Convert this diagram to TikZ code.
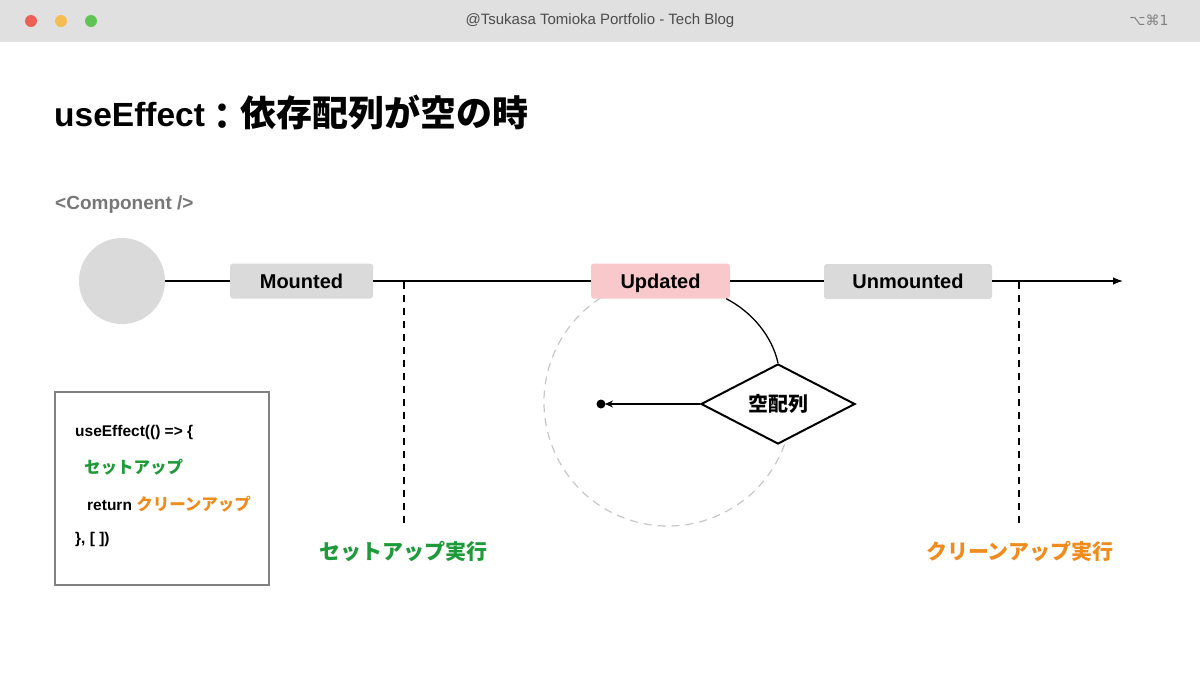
\documentclass[tikz,border=0pt]{standalone}
\usepackage{fontspec}
\setmainfont{Liberation Sans}
\newfontfamily\cjk{Noto Sans CJK JP}
\newfontfamily\sym{DejaVu Sans}
\usetikzlibrary{arrows.meta,shapes.geometric}
\definecolor{barbg}{HTML}{E0E0E0}
\definecolor{boxgray}{HTML}{DADADA}
\definecolor{boxpink}{HTML}{F9C8CA}
\definecolor{setgreen}{HTML}{1E9A3A}
\definecolor{cleanorange}{HTML}{F08C1E}
\definecolor{compgray}{HTML}{777777}
\tikzset{
  stage/.style={rounded corners=3pt, minimum height=35pt, font=\bfseries\fontsize{20}{20}\selectfont, inner sep=0pt, text height=14.5pt, text depth=0.5pt},
  tline/.style={line width=1.2pt, draw=black},
  vdash/.style={line width=1.2pt, dash pattern=on 7pt off 6pt},
  codetext/.style={anchor=west, font=\bfseries\fontsize{15.5}{16}\selectfont, inner sep=0pt},
  bigjp/.style={font=\cjk\bfseries\fontsize{21}{21}\selectfont, inner sep=0pt}
}
\begin{document}
\begin{tikzpicture}[x=1pt,y=-1pt]
\useasboundingbox (0,0) rectangle (1200,675);
\fill[white] (0,0) rectangle (1200,675);
% top bar
\fill[barbg] (0,0) rectangle (1200,42);
\fill[color={rgb,255:red,238;green,95;blue,87}] (31,21) circle (6);
\fill[color={rgb,255:red,245;green,189;blue,79}] (61,21) circle (6);
\fill[color={rgb,255:red,95;green,196;blue,84}] (91,21) circle (6);
\node[text=black!70, font=\fontsize{15}{16}\selectfont] (bartitle) at (600,21) {@Tsukasa Tomioka Portfolio - Tech Blog};
\node[text=black!50, font=\sym\fontsize{14}{15}\selectfont, anchor=east] (shortcut) at (1172,20) {⌥⌘1};
% heading
\node[anchor=west, inner sep=0pt] (heading) at (54,112) {{\bfseries\fontsize{33.5}{34}\selectfont useEffect}{\cjk\bfseries\fontsize{36}{37}\selectfont \raisebox{-3pt}{：}依存配列が空の時}};
\node[anchor=west, inner sep=0pt, text=compgray, font=\bfseries\fontsize{19}{19}\selectfont] (comp) at (55,205) {<Component />};
% dashed gray loop (behind the nodes)
\coordinate (loopc) at (668,402);
\draw[draw=black!22, line width=1.2pt, dash pattern=on 8pt off 6pt] ([shift={(20:124)}]loopc) arc[start angle=20, end angle=292, radius=124];
% timeline
\node[circle, fill=boxgray, minimum size=86pt, inner sep=0pt] (comp circ) at (122,281) {};
\node[stage, fill=boxgray, minimum width=143pt] (mounted) at (301.5,281) {Mounted};
\node[stage, fill=boxpink, minimum width=139pt] (updated) at (660.5,281) {Updated};
\node[stage, fill=boxgray, minimum width=168pt] (unmounted) at (908,281.5) {Unmounted};
\coordinate (tend) at (1123,281);
\draw[tline] (comp circ) -- (mounted);
\draw[tline] (mounted.east |- 0,281) -- (updated.west |- 0,281);
\draw[tline] (updated.east |- 0,281) -- (unmounted.west |- 0,281);
\draw[tline, -{Latex[length=10pt,width=7.5pt]}] (unmounted.east |- 0,281) -- (tend);
% dashed verticals
\coordinate (v1top) at (404,282);
\coordinate (v1bot) at (404,527);
\coordinate (v2top) at (1019,282);
\coordinate (v2bot) at (1019,525);
\draw[vdash] (v1top) -- (v1bot);
\draw[vdash] (v2top) -- (v2bot);
\node[bigjp, text=setgreen] (setupexec) at (403,551) {セットアップ実行};
\node[bigjp, text=cleanorange] (cleanexec) at (1020,551) {クリーンアップ実行};
% diamond
\node[diamond, draw=black, line width=2pt, fill=white, minimum width=154pt, minimum height=80pt, inner sep=0pt, aspect=1.9, font=\cjk\bfseries\fontsize{20}{20}\selectfont] (empty) at (778,404) {空配列};
\coordinate (dot) at (601,404);
\fill[black] (dot) circle (4.5);
\draw[line width=1.3pt, -{Stealth[length=8pt,width=7pt]}] (empty.west) -- ([xshift=4pt]dot);
\draw[line width=1.3pt] (updated.south east) ++(-4,0) .. controls (752,312) and (772,336) .. (empty.north);
% code box
\node[draw=black!50, line width=1.2pt, minimum width=214pt, minimum height=193pt, inner sep=0pt] (codebox) at (162,488.5) {};
\node[codetext] (l1) at (75,432) {useEffect(() => \{};
\node[codetext, text=setgreen, font=\cjk\bfseries\fontsize{16.5}{17}\selectfont] (l2) at (84,467) {セットアップ};
\node[codetext] (l3) at (87,504) {return {\cjk\fontsize{16.5}{17}\selectfont\color{cleanorange}クリーンアップ}};
\node[codetext] (l4) at (75,539) {\}, [ ])};
\end{tikzpicture}
\end{document}
